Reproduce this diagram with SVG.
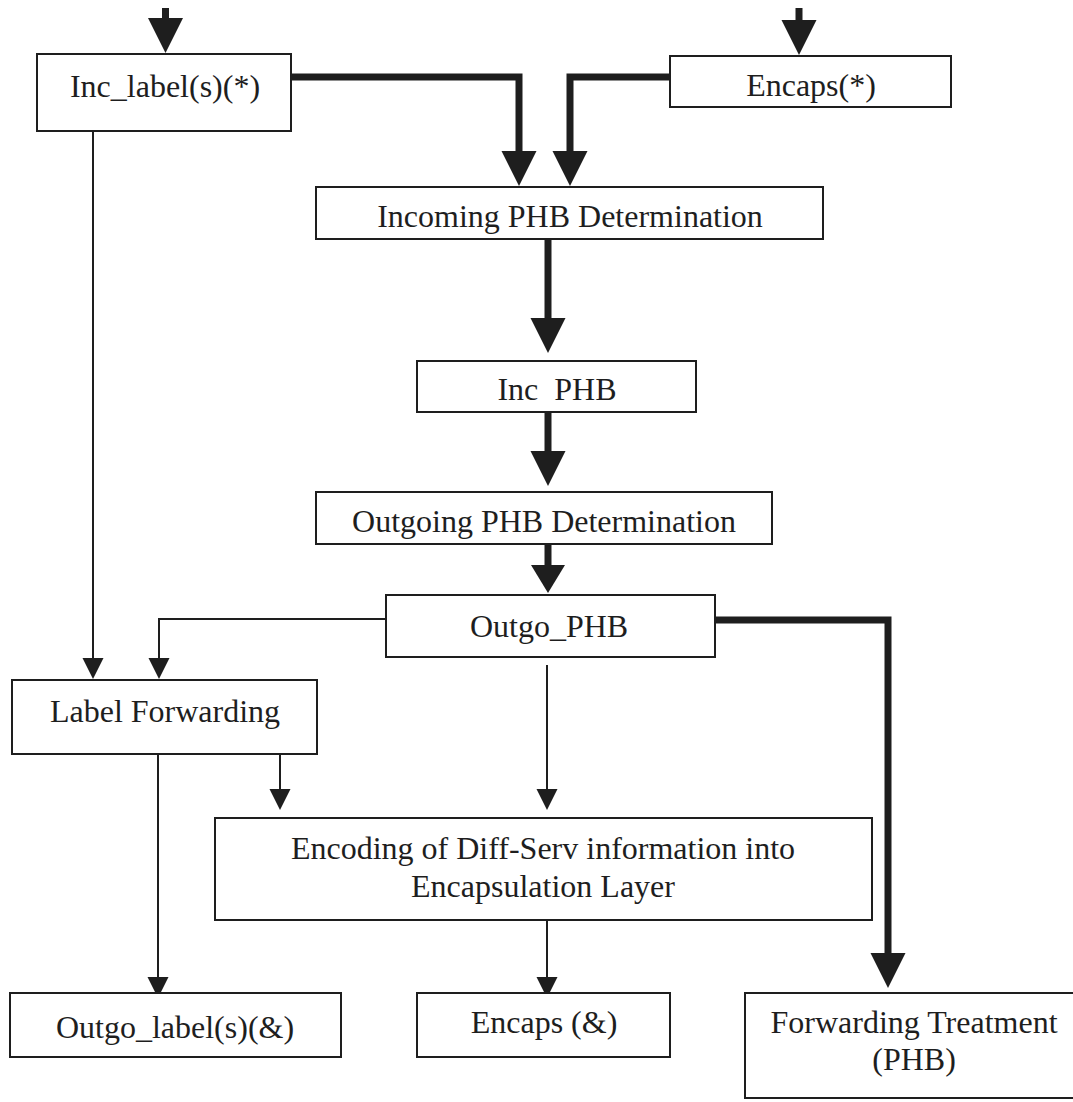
<svg xmlns="http://www.w3.org/2000/svg" width="1073" height="1102" viewBox="0 0 1073 1102">
  <style>
    .box { fill: #ffffff; stroke: #1e1e1e; stroke-width: 2; }
    .lbl { font-family: "Liberation Serif", "Times New Roman", serif; font-size: 32px; fill: #1e1e1e; text-anchor: middle; }
    .thin { fill: none; stroke: #1e1e1e; stroke-width: 2; stroke-linejoin: miter; }
    .thick { fill: none; stroke: #1e1e1e; stroke-width: 7; stroke-linejoin: miter; }
  </style>
  <defs>
    <!-- arrowheads: the path ends at the triangle base, the tip lies further along -->
    <marker id="ah-thick" markerUnits="userSpaceOnUse" markerWidth="40" markerHeight="40" refX="0" refY="0" orient="auto" overflow="visible">
      <path d="M-1,-17.5 L34,0 L-1,17.5 z" fill="#1e1e1e"/>
    </marker>
    <marker id="ah-thick-s" markerUnits="userSpaceOnUse" markerWidth="40" markerHeight="40" refX="0" refY="0" orient="auto" overflow="visible">
      <path d="M-1,-17 L27,0 L-1,17 z" fill="#1e1e1e"/>
    </marker>
    <marker id="ah-thin" markerUnits="userSpaceOnUse" markerWidth="30" markerHeight="30" refX="0" refY="0" orient="auto" overflow="visible">
      <path d="M-1,-10.5 L20,0 L-1,10.5 z" fill="#1e1e1e"/>
    </marker>
  </defs>

  <rect width="1073" height="1102" fill="#ffffff"/>

  <g id="connectors">
    <!-- heavy PHB path -->
    <path class="thick" d="M165.5,8 V19" marker-end="url(#ah-thick)"/>
    <path class="thick" d="M799,8 V21" marker-end="url(#ah-thick)"/>
    <path class="thick" d="M291,77 H519 V152" marker-end="url(#ah-thick)"/>
    <path class="thick" d="M670,77 H570 V152" marker-end="url(#ah-thick)"/>
    <path class="thick" d="M548,239 V319" marker-end="url(#ah-thick)"/>
    <path class="thick" d="M548,412 V452" marker-end="url(#ah-thick)"/>
    <path class="thick" d="M548,544 V566" marker-end="url(#ah-thick-s)"/>
    <path class="thick" d="M715,620 H888 V954" marker-end="url(#ah-thick)"/>
    <!-- light label/encapsulation path -->
    <path class="thin" d="M93,131 V659" marker-end="url(#ah-thin)"/>
    <path class="thin" d="M386,619 H159 V659" marker-end="url(#ah-thin)"/>
    <path class="thin" d="M158,754 V978" marker-end="url(#ah-thin)"/>
    <path class="thin" d="M280,754 V790" marker-end="url(#ah-thin)"/>
    <path class="thin" d="M547,665 V790" marker-end="url(#ah-thin)"/>
    <path class="thin" d="M547,920 V978" marker-end="url(#ah-thin)"/>
  </g>

  <g id="inc-label">
    <rect class="box" x="37" y="54" width="254" height="77"/>
    <text class="lbl" x="165" y="97">Inc_label(s)(*)</text>
  </g>

  <g id="encaps-in">
    <rect class="box" x="670" y="56" width="281" height="51"/>
    <text class="lbl" x="811" y="96">Encaps(*)</text>
  </g>

  <g id="incoming-phb-determination">
    <rect class="box" x="316" y="187" width="507" height="52"/>
    <text class="lbl" x="570" y="227">Incoming PHB Determination</text>
  </g>

  <g id="inc-phb">
    <rect class="box" x="417" y="361" width="279" height="51"/>
    <text class="lbl" x="557" y="400" style="word-spacing:8px">Inc PHB</text>
  </g>

  <g id="outgoing-phb-determination">
    <rect class="box" x="316" y="492" width="456" height="52"/>
    <text class="lbl" x="544" y="532">Outgoing PHB Determination</text>
  </g>

  <g id="outgo-phb">
    <rect class="box" x="386" y="595" width="329" height="62"/>
    <text class="lbl" x="549" y="637">Outgo_PHB</text>
  </g>

  <g id="label-forwarding">
    <rect class="box" x="12" y="680" width="305" height="74"/>
    <text class="lbl" x="165" y="722">Label Forwarding</text>
  </g>

  <g id="encoding">
    <rect class="box" x="215" y="818" width="657" height="102"/>
    <text class="lbl" x="543" y="859">Encoding of Diff-Serv information into</text>
    <text class="lbl" x="543" y="897">Encapsulation Layer</text>
  </g>

  <g id="outgo-label">
    <rect class="box" x="10" y="993" width="331" height="64"/>
    <text class="lbl" x="175" y="1038">Outgo_label(s)(&amp;)</text>
  </g>

  <g id="encaps-out">
    <rect class="box" x="417" y="993" width="253" height="64"/>
    <text class="lbl" x="544" y="1033">Encaps (&amp;)</text>
  </g>

  <g id="forwarding-treatment">
    <rect class="box" x="745" y="993" width="340" height="105"/>
    <text class="lbl" x="914" y="1033">Forwarding Treatment</text>
    <text class="lbl" x="914" y="1070">(PHB)</text>
  </g>
</svg>
